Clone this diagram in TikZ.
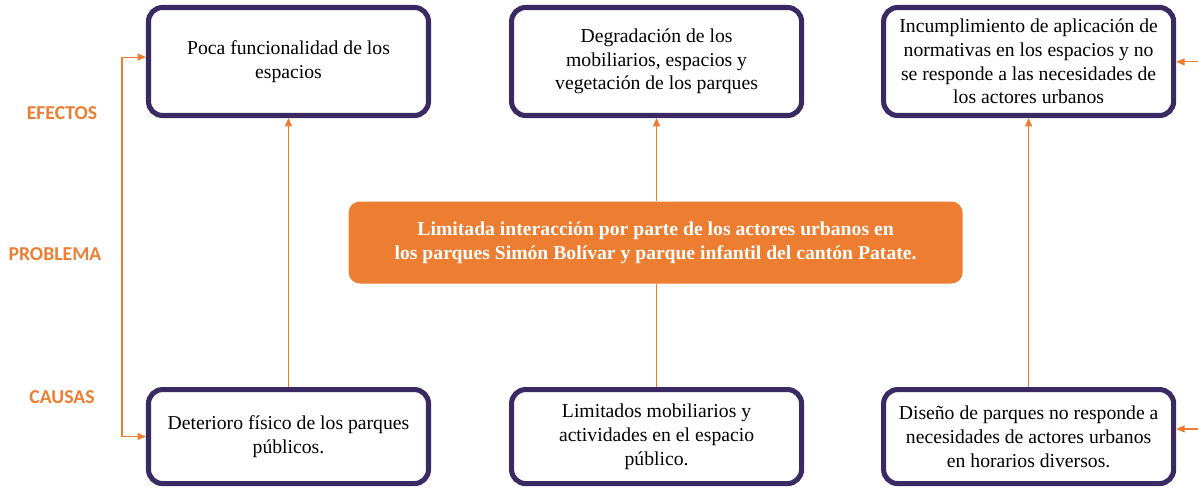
\documentclass[tikz,border=0pt]{standalone}
\usepackage{fontspec}
\setmainfont{Liberation Serif}
\newfontfamily\lblfont{Carlito}
\usepackage{xcolor}
\usepackage{tikz}
\usetikzlibrary{arrows.meta,positioning}
\definecolor{boxpurple}{RGB}{59,41,99}
\definecolor{probor}   {RGB}{237,125,49}
\tikzset{
  mainbox/.style={draw=boxpurple, line width=3.6pt, rounded corners=10pt,
                  fill=white, align=center, inner sep=2pt,
                  minimum width=#1,
                  font=\fontsize{14}{16.9}\selectfont},
  mainbox/.default=7.25cm,
  effbox/.style ={mainbox=#1, minimum height=2.7cm},
  effbox/.default=7.25cm,
  causbox/.style={mainbox=#1, minimum height=2.35cm},
  causbox/.default=7.25cm,
  probbox/.style={fill=probor, rounded corners=8pt, text=white,
                  align=center, minimum width=15.35cm, minimum height=2.05cm,
                  font=\bfseries\fontsize{14}{16.9}\selectfont},
  lbl/.style    ={text=probor, font=\lblfont\bfseries\fontsize{14}{16}\selectfont},
  lnk/.style    ={draw=probor, line width=0.8pt},
  arr/.style    ={lnk, -{Triangle[length=6pt,width=5pt]}},
  darr/.style   ={lnk, {Triangle[length=6pt,width=5pt]}-{Triangle[length=6pt,width=5pt]}},
}
\begin{document}
\begin{tikzpicture}[node distance=1.95cm]
  \useasboundingbox (0,0) rectangle (29.95,12.2);
  %% efectos
  \node[effbox=7.0cm] (e1) at (7.2125,10.6625) {Poca funcionalidad de los\\espacios};
  \node[effbox, right=of e1] (e2) {Degradación de los\\mobiliarios, espacios y\\vegetación de los parques};
  \node[effbox, right=1.925cm of e2] (e3) {Incumplimiento de aplicación de\\normativas en los espacios y no\\se responde a las necesidades de\\los actores urbanos};
  %% causas
  \node[causbox=7.0cm, below=6.725cm of e1] (c1) {Deterioro físico de los parques\\públicos.};
  \node[causbox, below=6.725cm of e2] (c2) {Limitados mobiliarios y\\actividades en el espacio\\público.};
  \node[causbox, below=6.725cm of e3] (c3) {Diseño de parques no responde a\\necesidades de actores urbanos\\en horarios diversos.};
  %% problema
  \node[probbox] (p) at (16.39,6.1375) {Limitada interacción por parte de los actores urbanos en\\los parques Simón Bolívar y parque infantil del cantón Patate.};
  %% etiquetas
  \node[lbl] (lefe) at (1.55,9.375) {EFECTOS};
  \node[lbl] (lpro) at (1.375,5.85) {PROBLEMA};
  \node[lbl] (lcau) at (1.55,2.275) {CAUSAS};
  %% conectores
  \draw[arr](c1)--(e1);
  \draw[lnk](c2)--(c2|-p.south);
  \draw[arr](e2|-p.north)--(e2);
  \draw[arr](c3)--(e3);
  \draw[darr]([yshift=0.11cm]e1.west)-|([xshift=-0.6cm]c1.west)--(c1.west);
  \coordinate (redge) at (29.95,0);
  \draw[arr]([yshift=-0.01cm]e3.east-|redge)--([yshift=-0.01cm]e3.east);
  \draw[arr]([yshift=0.19cm]c3.east-|redge)--([yshift=0.19cm]c3.east);
\end{tikzpicture}
\end{document}
